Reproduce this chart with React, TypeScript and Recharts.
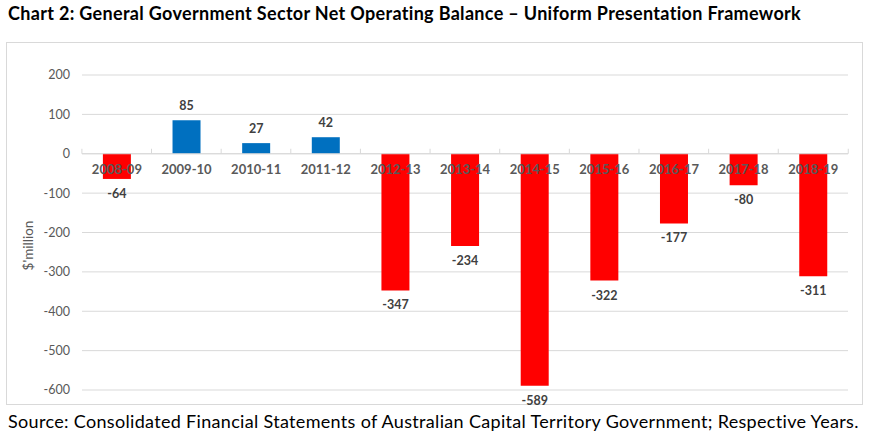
import { BarChart, Bar, XAxis, YAxis, CartesianGrid, ReferenceLine, LabelList, Cell, Label } from "recharts"

const years = ["2008-09", "2009-10", "2010-11", "2011-12", "2012-13", "2013-14", "2014-15", "2015-16", "2016-17", "2017-18", "2018-19"]
const balance = [-64, 85, 27, 42, -347, -234, -589, -322, -177, -80, -311]
const yTicks = [200, 100, 0, -100, -200, -300, -400, -500, -600]

const data = years.map((year, i) => ({ year, balance: balance[i] }))

const FONT = "Lato, 'Open Sans', sans-serif"

function barBox(props: any) {
  const vb = props.viewBox || {}
  const x = Number(props.x ?? vb.x)
  const y = Number(props.y ?? vb.y)
  const w = Number(props.width ?? vb.width)
  const h = Number(props.height ?? vb.height)
  return { x, w, a: Math.min(y, y + h), b: Math.max(y, y + h) }
}

const renderValue = (props: any) => {
  const { x, w, a, b } = barBox(props)
  const v = Number(props.value)
  const ty = v >= 0 ? a - 10 : b + 19
  return (
    <text x={x + w / 2} y={ty} textAnchor="middle" fontSize={12.5} fontWeight="bold" fill="#404040" fontFamily={FONT}>
      {v}
    </text>
  )
}

const renderCategory = (props: any) => {
  const { x, w, a, b } = barBox(props)
  const v = balance[props.index]
  const zero = v >= 0 ? b : a
  const band = w / 0.4
  const left = x + w / 2 - band / 2
  return (
    <g>
      <line x1={left} x2={left} y1={zero - 5} y2={zero} stroke="#d9d9d9" />
      {props.index === years.length - 1 && (
        <line x1={left + band} x2={left + band} y1={zero - 5} y2={zero} stroke="#d9d9d9" />
      )}
      <text x={x + w / 2} y={zero + 20} textAnchor="middle" fontSize={13} fontWeight="bold" fill="#595959" fontFamily={FONT}>
        {props.value}
      </text>
    </g>
  )
}

const renderYLabel = (props: any) => {
  const vb = props.viewBox
  const cx = vb.x + 6
  const cy = vb.y + vb.height / 2 + 13
  return (
    <text x={cx} y={cy} transform={`rotate(-90, ${cx}, ${cy})`} textAnchor="middle" dominantBaseline="central" fontSize={13.5} fill="#595959" fontFamily={FONT}>
      $'million
    </text>
  )
}

export default function App() {
  return (
    <div style={{ position: "absolute", left: 0, top: 0, width: 871, height: 436, background: "#fff", fontFamily: FONT }}>
      <div style={{ position: "absolute", left: 8, top: 2, fontSize: 18, letterSpacing: 0.32, fontWeight: "bold", color: "#000", whiteSpace: "nowrap" }}>
        Chart 2: General Government Sector Net Operating Balance – Uniform Presentation Framework
      </div>
      <div style={{ position: "absolute", left: 6, top: 42, width: 855, height: 361, border: "1px solid #d9d9d9" }} />
      <div style={{ position: "absolute", left: 0, top: 0 }}>
        <BarChart width={871} height={436} data={data} margin={{ top: 75, right: 23, bottom: 46, left: 22 }} barCategoryGap="30%">
          <CartesianGrid vertical={false} stroke="#d9d9d9" />
          <XAxis dataKey="year" hide />
          <YAxis
            width={60}
            domain={[-600, 200]}
            ticks={yTicks}
            axisLine={false}
            tickLine={false}
            tickMargin={6}
            tick={{ fill: "#595959", fontSize: 12.5 }}
            interval={0}
          >
            <Label content={renderYLabel} />
          </YAxis>
          <ReferenceLine y={0} stroke="#d9d9d9" />
          <Bar dataKey="balance" isAnimationActive={false}>
            {data.map((d) => (
              <Cell key={d.year} fill={d.balance >= 0 ? "#0070C0" : "#FF0000"} />
            ))}
            <LabelList dataKey="year" content={renderCategory} />
            <LabelList dataKey="balance" content={renderValue} />
          </Bar>
        </BarChart>
      </div>
      <div style={{ position: "absolute", left: 8, top: 410, fontSize: 18, letterSpacing: 0.32, color: "#000", whiteSpace: "nowrap" }}>
        Source: Consolidated Financial Statements of Australian Capital Territory Government; Respective Years.
      </div>
    </div>
  )
}
